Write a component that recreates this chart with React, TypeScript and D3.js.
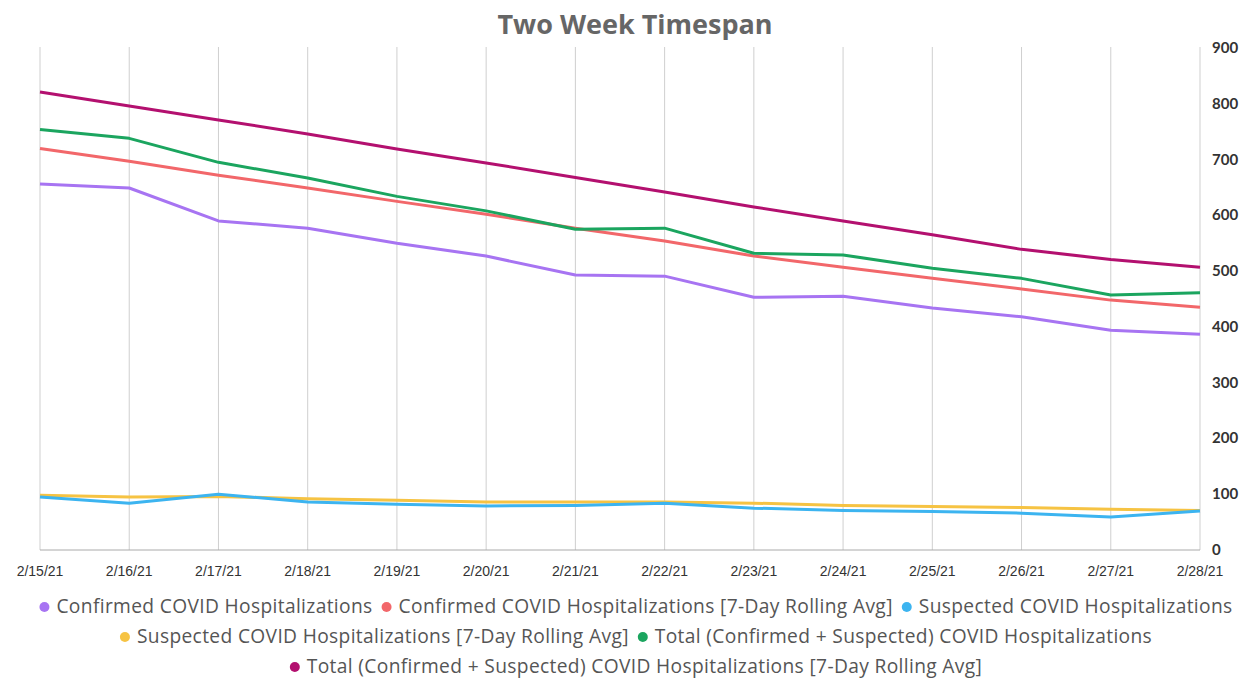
import React, { useRef, useEffect } from 'react'
import * as d3 from 'd3'

const dates = ['2/15/21', '2/16/21', '2/17/21', '2/18/21', '2/19/21', '2/20/21', '2/21/21', '2/22/21', '2/23/21', '2/24/21', '2/25/21', '2/26/21', '2/27/21', '2/28/21']
const yTicks = [0, 100, 200, 300, 400, 500, 600, 700, 800, 900]

const confirmed = [656, 649, 590, 577, 550, 527, 493, 491, 453, 455, 434, 418, 394, 387]
const confirmedAvg = [720, 697, 672, 649, 625, 602, 577, 554, 527, 507, 487, 468, 448, 435]
const suspected = [95, 84, 100, 86, 82, 79, 80, 84, 75, 71, 69, 66, 59, 70]
const suspectedAvg = [98, 95, 96, 92, 89, 86, 86, 86, 84, 80, 78, 76, 73, 71]
const total = [754, 738, 695, 667, 634, 608, 575, 577, 532, 529, 505, 487, 457, 461]
const totalAvg = [821, 796, 771, 746, 719, 694, 668, 642, 615, 590, 565, 539, 521, 507]

const seriesNames = [
  'Confirmed COVID Hospitalizations',
  'Confirmed COVID Hospitalizations [7-Day Rolling Avg]',
  'Suspected COVID Hospitalizations',
  'Suspected COVID Hospitalizations [7-Day Rolling Avg]',
  'Total (Confirmed + Suspected) COVID Hospitalizations',
  'Total (Confirmed + Suspected) COVID Hospitalizations [7-Day Rolling Avg]',
]
const colors = ['#a774f2', '#f2676a', '#3cb4f0', '#f6c343', '#1ba55f', '#b3106f']
// drawing order: lowest first so the top lines sit above
const drawOrder = [3, 2, 1, 0, 4, 5]
const legendRows = [[0, 1, 2], [3, 4], [5]]

function App() {
  const svgRef = useRef<SVGSVGElement>(null)

  useEffect(() => {
    const svg = d3.select(svgRef.current)
    svg.selectAll('*').remove()
    const allSeries = [confirmed, confirmedAvg, suspected, suspectedAvg, total, totalAvg]

    const x = d3.scalePoint().domain(dates).range([40, 1200])
    const y = d3.scaleLinear().domain([0, 900]).range([550, 48])

    svg.append('text')
      .attr('x', 635).attr('y', 34)
      .attr('text-anchor', 'middle')
      .attr('font-family', 'Open Sans, sans-serif')
      .attr('font-weight', 'bold')
      .attr('font-size', 27)
      .attr('fill', '#666')
      .text('Two Week Timespan')

    // vertical grid
    svg.append('g').selectAll('line').data(dates).enter().append('line')
      .attr('x1', d => x(d)!).attr('x2', d => x(d)!)
      .attr('y1', 47).attr('y2', 550)
      .attr('stroke', '#cfcfcf').attr('stroke-width', 1)

    svg.append('line')
      .attr('x1', 40).attr('x2', 1200).attr('y1', 550).attr('y2', 550)
      .attr('stroke', '#aaa')

    // x labels
    svg.append('g').selectAll('text').data(dates).enter().append('text')
      .attr('x', d => x(d)!).attr('y', 576)
      .attr('text-anchor', 'middle')
      .attr('font-family', 'Liberation Sans, Arial, sans-serif')
      .attr('font-size', 14)
      .attr('fill', '#333')
      .text(d => d)

    // y labels
    svg.append('g').selectAll('text').data(yTicks).enter().append('text')
      .attr('x', 1212).attr('y', d => y(d) + 5)
      .attr('font-family', 'Lato, sans-serif')
      .attr('font-weight', 'bold')
      .attr('font-size', 15)
      .attr('fill', '#333')
      .text(d => d)

    const line = d3.line<number>().x((_, i) => x(dates[i])!).y(d => y(d))

    drawOrder.forEach(k => {
      svg.append('path')
        .datum(allSeries[k])
        .attr('d', line)
        .attr('fill', 'none')
        .attr('stroke', colors[k])
        .attr('stroke-width', 3)
        .attr('stroke-linejoin', 'round')
    })

    // legend
    const legend = svg.append('g')
    legendRows.forEach((row, r) => {
      const ly = 607 + r * 30
      const g = legend.append('g')
      let cx = 0
      row.forEach(k => {
        g.append('circle').attr('cx', cx + 5).attr('cy', ly).attr('r', 5).attr('fill', colors[k])
        const t = g.append('text')
          .attr('x', cx + 17).attr('y', ly + 6)
          .attr('font-family', 'Open Sans, sans-serif')
          .attr('font-size', 19.2)
          .attr('letter-spacing', 0.35)
          .attr('fill', '#555')
          .text(seriesNames[k])
        const w = (t.node() as SVGTextElement).getComputedTextLength()
        cx += 17 + w + 9
      })
      const width = cx - 9
      g.attr('transform', `translate(${636 - width / 2},0)`)
    })
  }, [])

  return (
    <svg ref={svgRef} width={1248} height={679} style={{ position: 'absolute', left: 0, top: 0, background: '#fff' }} />
  )
}

export default App
